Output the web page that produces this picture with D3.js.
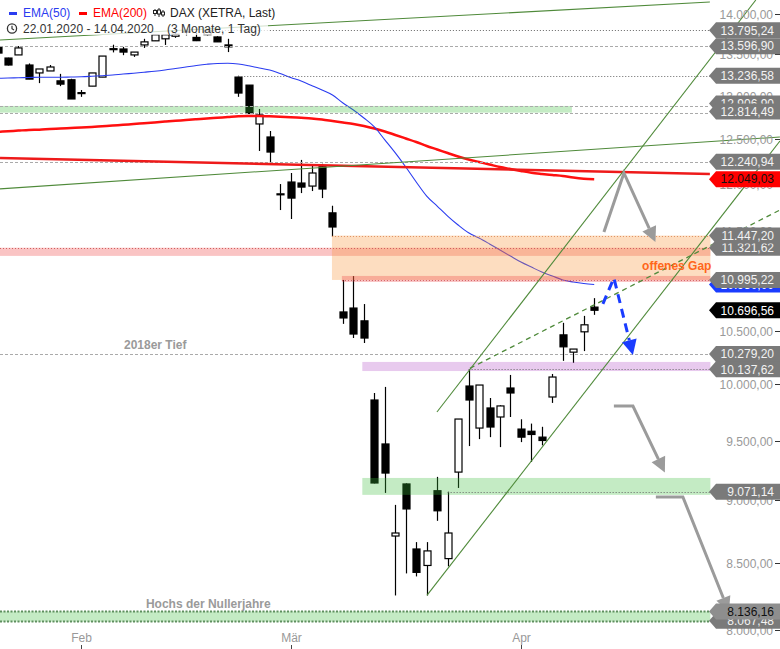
<!DOCTYPE html>
<html><head><meta charset="utf-8">
<script src="https://cdn.jsdelivr.net/npm/d3@7"></script>
<style>
html,body{margin:0;padding:0;background:#fff;}
svg{display:block;}
text{font-family:"Liberation Sans",Arial,sans-serif;}
</style></head><body>
<svg id="c" width="780" height="649"></svg>
<script>
// ---------- DATA ----------
const dates = ["2020-01-22","2020-01-23","2020-01-24","2020-01-27","2020-01-28","2020-01-29","2020-01-30","2020-01-31",
"2020-02-03","2020-02-04","2020-02-05","2020-02-06","2020-02-07","2020-02-10","2020-02-11","2020-02-12","2020-02-13","2020-02-14",
"2020-02-17","2020-02-18","2020-02-19","2020-02-20","2020-02-21","2020-02-24","2020-02-25","2020-02-26","2020-02-27","2020-02-28",
"2020-03-02","2020-03-03","2020-03-04","2020-03-05","2020-03-06","2020-03-09","2020-03-10","2020-03-11","2020-03-12","2020-03-13",
"2020-03-16","2020-03-17","2020-03-18","2020-03-19","2020-03-20","2020-03-23","2020-03-24","2020-03-25","2020-03-26","2020-03-27",
"2020-03-30","2020-03-31","2020-04-01","2020-04-02","2020-04-03","2020-04-06","2020-04-07","2020-04-08","2020-04-09","2020-04-14"];
const open  = [13586,13451,13489,13366,13270,13294,13175,13188,13025,13112,13220,13556,13562,13489,13612,13663,13688,13720,13770,13705,13740,13711,13612,13220,13124,12669,12520,11880,
12018,12007,11974,12186,11686,10680,10718,10594,9859,9473,8713,9135,8611,8483,9079,8536,9234,9985,9611,9788,9708,9967,9602,9583,9532,9886,10460,10297,10489,10727];
const high  = [13600,13455,13599,13385,13318,13366,13259,13200,13066,13270,13475,13615,13588,13524,13688,13738,13738,13760,13790,13760,13795.24,13720,13688,13236.58,13124,12843,12588,11996,
12117,12262,12197,12219,11762,10995.22,11034,10757,9922,9977,8963,9140,8665,8665,9194,9071.14,9690,10137.62,9994,9877,9812,10086,9688,9650,9622,10095,10575,10326,10642,10815];
const low   = [13500,13360,13489,13196,13148,13294,13112,12960,12985,13112,13220,13520,13486,13465,13575,13663,13612,13700,13730,13660,13730,13650,13524,12985,12785,12362,12228,11716,
11621,11898,11920,11844,11436,10565,10430,10383,9140,9061,8255,8422,8399,8255,8834,8476,9102,9455,9515,9532,9446,9708,9489,9319,9461,9833,10216,10197,10307,10652];
const close = [13512,13366,13575,13196,13318,13342,13136,12960,13035,13270,13475,13566,13524,13524,13650,13738,13738,13744,13784,13665,13789,13650,13588,13030,12790,12773,12350,11890,
11844,11963,12117,11942,11537,10622,10468,10430,9143,9226,8737,8930,8430,8596,8915,8737,9690,9859,9994,9620,9806,9922,9532,9555,9503,10067,10347,10326,10556,10696.56];
const ema50 = [13205,13209,13212,13215,13218,13218,13218,13221,13224,13230,13237,13245,13257,13267,13279,13291,13306,13324,13342,13360,13375,13385,13387,13379,13357,13330,13306,13263,
13215,13173,13120,13066,13007,12913,12831,12738,12635,12487,12340,12183,12018,11865,11758,11652,11558,11476,11422,11361,11298,11236,11175,11124,11075,11035,10995,10975,10960,10950];
const ema200 = [12579,12586,12593,12600,12604,12611,12617,12623,12628,12635,12643,12651,12660,12668,12678,12687,12696,12705,12715,12724,12733,12741,12749,12757,12761,12761,12757,12753,
12747,12740,12733,12720,12703,12686,12669,12646,12617,12583,12543,12503,12463,12418,12379,12339,12300,12267,12239,12211,12183,12161,12139,12119,12106,12095,12084,12067,12055,12049.03];

const yTicks = [14000,13500,13000,12500,12000,11500,11000,10500,10000,9500,9000,8500,8000];
const monthNames = ["Jan","Feb","Mär","Apr"];

// horizontal levels (price, start index, kind)
const levelValues = [13795.24,13596.90,13236.58,12878,12800,12240.94,11447.20,11321.62,10995.22,10279.20,10137.62,9071.14,8136.16,8067.48];
const levelStart  = [20,-1,23,-1,-1,-1,31.95,-1,32.9,-1,45,43,-1,-1];
const levelKind   = ["dot","dash","dot","dash","dash","dash","orange","red","red","dash","dot","dot","green","green"];

// zones (top, bottom, start index, end index, kind)
const zoneTop    = [12878,11321.62,11447.20,11035,10206,9185,8136.16];
const zoneBottom = [12800,11238,10995.22,10975,10122,9045,8061];
const zoneStart  = [-1,-1,31.95,32.9,34.85,34.85,-1];
const zoneEnd    = [54.87,68.1,68.1,68.1,68.1,68.1,68.1];
const zoneKind   = ["green","red","orange","red","purple","green","green"];

// trend lines (start idx, start value, end idx, end value, kind)
const trendStartIdx = [0.24,0.24,0.24,41.98,41.02,45.13];
const trendStartVal = [12284,13673,11944,9752,8255,10147];
const trendEndIdx   = [68.05,68.05,74.74,72.44,74.74,74.74];
const trendEndVal   = [12106,14153,12520,14179,12474,11716];
const trendKind     = ["red","green","green","green","green","greenDash"];

// projections (index, price)
const projA = [[57.93,11485],[59.84,12117],[62.85,11380]];
const projB = [[58.88,9805],[60.70,9805],[63.75,9230]];
const projC = [[62.89,9028],[65.47,9028],[69.87,8132]];
const projBlue = [[57.83,10758],[58.88,11015],[60.70,10271]];

// price labels on the right
const labelValues = [13795.24,13596.90,13236.58,12906.90,12814.49,12240.94,12049.03,11321.62,11447.20,10950,10995.22,10696.56,10279.20,10137.62,9071.14,8067.48,8136.16];
const labelKind   = ["g","g","g","g","g","g","ema200","g","g","ema50","g","last","g","g","g","g","g2"];

// text notes (text, index, price, anchor)
const noteText = ["offenes Gap","2018er Tief","Hochs der Nullerjahre"];
const noteIdx  = [68.2,12.08,14.18];
const noteVal  = [11095,10327,8162];

// ---------- CHART ----------
const svg = d3.select("#c");
const x = d3.scaleLinear().domain([0, 57]).range([-2.5, 594.2]);
const y = d3.scaleLog().domain([8000, 14000]).range([630, 14]);
const edgeIdx = x.invert(710);
const de = d3.formatLocale({decimal:",",thousands:".",grouping:[3],currency:["","€"]});
const fmt = de.format(",.2f");

const gMain = svg.append("g");

// candles
const idx = d3.range(dates.length);
const cw = 7;
const cg = gMain.append("g");
cg.selectAll("line.w").data(idx).join("line")
  .attr("x1", i => Math.round(x(i)) + 0.5).attr("x2", i => Math.round(x(i)) + 0.5)
  .attr("y1", i => y(high[i])).attr("y2", i => y(low[i]))
  .attr("stroke", "#000").attr("stroke-width", 1.2);
cg.selectAll("rect.b").data(idx).join("rect")
  .attr("x", i => Math.round(x(i)) - cw/2 + 0.5)
  .attr("width", cw)
  .attr("y", i => y(Math.max(open[i], close[i])))
  .attr("height", i => Math.max(1, y(Math.min(open[i], close[i])) - y(Math.max(open[i], close[i]))))
  .attr("fill", i => close[i] >= open[i] ? "#fff" : "#000")
  .attr("stroke", "#000").attr("stroke-width", 1.2);

// EMA lines
const lineGen = arr => d3.line().x((d, i) => x(i)).y(d => y(d)).curve(d3.curveMonotoneX)(arr);
gMain.append("path").attr("d", lineGen(ema200)).attr("fill", "none").attr("stroke", "#ff1010").attr("stroke-width", 2.5);
gMain.append("path").attr("d", lineGen(ema50)).attr("fill", "none").attr("stroke", "#2a3cf0").attr("stroke-width", 1.1);

// zones
const zoneFill = {green:"rgba(60,190,60,0.3)", red:"rgba(240,60,60,0.3)", orange:"rgba(250,150,60,0.32)", purple:"rgba(180,80,200,0.3)"};
zoneTop.forEach((t, k) => {
  const x0 = Math.max(0, x(zoneStart[k])), x1 = x(zoneEnd[k]);
  gMain.append("rect").attr("x", x0).attr("width", x1 - x0)
    .attr("y", y(t)).attr("height", y(zoneBottom[k]) - y(t))
    .attr("fill", zoneFill[zoneKind[k]]);
});

// level lines
const levStyle = {
  dot: {c:"#666", d:"1,2", w:1},
  dash: {c:"#aaa", d:"3,2", w:1},
  orange: {c:"#e09060", d:"1,2", w:1},
  red: {c:"#d06060", d:"1,2", w:1},
  green: {c:"#5f8f5f", d:"2,1.5", w:2}
};
levelValues.forEach((v, k) => {
  const s = levStyle[levelKind[k]];
  gMain.append("line").attr("x1", Math.max(0, x(levelStart[k]))).attr("x2", x(edgeIdx))
    .attr("y1", Math.round(y(v)) + 0.5).attr("y2", Math.round(y(v)) + 0.5)
    .attr("stroke", s.c).attr("stroke-dasharray", s.d).attr("stroke-width", s.w);
});

// trend lines
const trStyle = {red:{c:"#ee1a1a", w:2.4, d:null}, green:{c:"#4f8a3a", w:1.1, d:null}, greenDash:{c:"#4f8a3a", w:1.3, d:"5,4"}};
trendStartIdx.forEach((s, k) => {
  const st = trStyle[trendKind[k]];
  const l = gMain.append("line").attr("x1", x(s)).attr("y1", y(trendStartVal[k]))
    .attr("x2", x(trendEndIdx[k])).attr("y2", y(trendEndVal[k]))
    .attr("stroke", st.c).attr("stroke-width", st.w);
  if (st.d) l.attr("stroke-dasharray", st.d);
});

// projection arrows
function arrow(pts, color, dashed) {
  const p = pts.map(d => [x(d[0]), y(d[1])]);
  const n = p.length;
  const a = Math.atan2(p[n-1][1] - p[n-2][1], p[n-1][0] - p[n-2][0]);
  const L = 15, W = 7.5;
  const tip = p[n-1];
  const base = [tip[0] - L*Math.cos(a), tip[1] - L*Math.sin(a)];
  const pl = p.slice(0, n-1).concat([base]);
  const path = gMain.append("path").attr("d", d3.line()(pl)).attr("fill", "none")
    .attr("stroke", color).attr("stroke-width", 3).attr("stroke-linejoin", "miter");
  if (dashed) path.attr("stroke-dasharray", "9,6");
  gMain.append("path").attr("d", d3.line()([tip,
      [base[0] + W*Math.sin(a), base[1] - W*Math.cos(a)],
      [base[0] - W*Math.sin(a), base[1] + W*Math.cos(a)]]) + "Z")
    .attr("fill", color);
}
arrow(projA, "#9b9b9b", false);
arrow(projB, "#9b9b9b", false);
arrow(projBlue, "#1a3cff", true);

// notes
const noteStyle = [{c:"#ff661a", a:"end"}, {c:"#9a9a9a", a:"start"}, {c:"#9a9a9a", a:"start"}];
noteText.forEach((t, k) => {
  gMain.append("text").attr("x", x(noteIdx[k])).attr("y", y(noteVal[k]))
    .attr("text-anchor", noteStyle[k].a).attr("font-size", 12).attr("font-weight", "bold")
    .attr("fill", noteStyle[k].c).text(t);
});

// x axis
const monthFirst = [];
dates.forEach((d, i) => { if (i > 0 && d.slice(5,7) !== dates[i-1].slice(5,7)) monthFirst.push(i); });
const xAx = svg.append("g");
monthFirst.forEach(i => {
  const m = +dates[i].slice(5,7);
  const xx = Math.round(x(i)) + 0.5;
  xAx.append("line").attr("x1", xx).attr("x2", xx).attr("y1", 645).attr("y2", 649).attr("stroke", "#444");
  xAx.append("text").attr("x", xx).attr("y", 642).attr("text-anchor", "middle")
    .attr("font-size", 12).attr("fill", "#999").text(monthNames[m-1]);
});

// y axis
const yAx = svg.append("g");
yTicks.forEach(v => {
  const yy = Math.round(y(v)) + 0.5;
  yAx.append("line").attr("x1", 775).attr("x2", 780).attr("y1", yy).attr("y2", yy).attr("stroke", "#333");
  yAx.append("text").attr("x", 773).attr("y", yy + 4.3).attr("text-anchor", "end")
    .attr("font-size", 12).attr("fill", "#999").text(fmt(v));
});

// right price labels
const labStyle = {
  g: {f:"#7a7a7a", t:"#f2f2f2"},
  g2: {f:"#8e8e8e", t:"#111"},
  ema200: {f:"#ff0000", t:"#111"},
  ema50: {f:"#1a3cff", t:"#fff"},
  last: {f:"#000", t:"#fff"}
};
labelValues.forEach((v, k) => {
  const s = labStyle[labelKind[k]];
  const cy = y(v), h = 8;
  svg.append("path").attr("d", d3.line()([[709, cy],[716, cy-h],[780, cy-h],[780, cy+h],[716, cy+h]]) + "Z")
    .attr("fill", s.f);
  svg.append("text").attr("x", 774).attr("y", cy + 4.3).attr("text-anchor", "end")
    .attr("font-size", 12).attr("fill", s.t).text(fmt(v));
});
arrow(projC, "#9b9b9b", false);

// legend
const lg = svg.append("g");
lg.append("rect").attr("x", 0).attr("y", 0).attr("width", 268).attr("height", 35).attr("fill", "rgba(255,255,255,0.75)");
lg.append("rect").attr("x", 9).attr("y", 12).attr("width", 8).attr("height", 3).attr("fill", "#2a3cf0");
lg.append("text").attr("x", 23).attr("y", 17).attr("font-size", 12).attr("fill", "#2a3cf0").text("EMA(50)");
lg.append("rect").attr("x", 79).attr("y", 12).attr("width", 8).attr("height", 3).attr("fill", "#ff0000");
lg.append("text").attr("x", 93).attr("y", 17).attr("font-size", 12).attr("fill", "#ff0000").text("EMA(200)");
// candle icon
[[155,9,16,10.5,13.5],[159,8,17,10,14],[163,10,17,12,15]].forEach(c => {
  lg.append("line").attr("x1", c[0]).attr("x2", c[0]).attr("y1", c[1]).attr("y2", c[2]).attr("stroke", "#222").attr("stroke-width", 1);
  lg.append("rect").attr("x", c[0]-1.5).attr("y", c[3]).attr("width", 3).attr("height", c[4]-c[3]).attr("fill", "#fff").attr("stroke", "#222").attr("stroke-width", 1);
});
lg.append("text").attr("x", 170).attr("y", 17).attr("font-size", 12).attr("fill", "#222").text("DAX (XETRA, Last)");
lg.append("circle").attr("cx", 12).attr("cy", 28.5).attr("r", 4.6).attr("fill", "none").attr("stroke", "#333").attr("stroke-width", 1.3);
lg.append("path").attr("d", "M12,25.8V28.7L14,30").attr("fill", "none").attr("stroke", "#333").attr("stroke-width", 1.2);
lg.append("text").attr("x", 23).attr("y", 33).attr("font-size", 12).attr("fill", "#333").text("22.01.2020 - 14.04.2020");
lg.append("text").attr("x", 167).attr("y", 33).attr("font-size", 12).attr("fill", "#333").text("(3 Monate, 1 Tag)");
</script>
</body></html>
